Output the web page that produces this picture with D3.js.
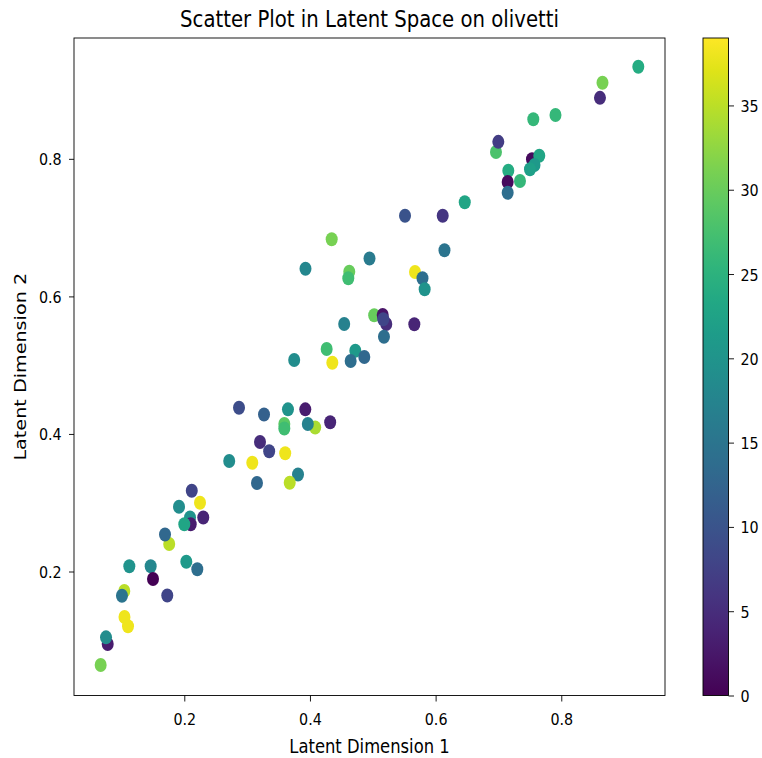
<!DOCTYPE html>
<html>
<head>
<meta charset="utf-8">
<script src="https://cdn.jsdelivr.net/npm/d3@7"></script>
<style>
  html, body { margin: 0; padding: 0; background: #fff; }
  svg { display: block; font-family: "DejaVu Sans", sans-serif; }
  .axis line { stroke: #000; stroke-width: 0.9px; }
  .axis text { fill: #000; font-family: "DejaVu Sans", sans-serif; }
</style>
</head>
<body>
<svg id="chart" width="762" height="758"></svg>
<script>
// Latent coordinates of the olivetti test faces and their subject ids
const latentX = [
  0.9226, 0.8656, 0.8616, 0.7908, 0.7555, 0.6961, 0.6998, 0.7534, 0.7650, 0.7574,
  0.7502, 0.7157, 0.7343, 0.7147, 0.7147, 0.6464, 0.5513, 0.6113, 0.4346, 0.6141,
  0.4948, 0.3929, 0.4626, 0.4610, 0.5672, 0.5791, 0.5826, 0.5022, 0.5158, 0.5215,
  0.5167, 0.5661, 0.4545, 0.5178, 0.4266, 0.4722, 0.4865, 0.4648, 0.4356, 0.3749,
  0.2871, 0.3269, 0.3650, 0.3926, 0.3592, 0.3592, 0.4083, 0.3966, 0.4322, 0.3205,
  0.3351, 0.3606, 0.3082, 0.2715, 0.3810, 0.3157, 0.3678, 0.2119, 0.2250, 0.1916,
  0.2091, 0.2302, 0.2102, 0.2000, 0.1760, 0.1693, 0.1125, 0.1465, 0.1502, 0.2032,
  0.2207, 0.1729, 0.1045, 0.1008, 0.1048, 0.1104, 0.0781, 0.0754, 0.0669
];
const latentY = [
  0.9339, 0.9107, 0.8887, 0.8637, 0.8576, 0.8099, 0.8247, 0.7994, 0.8044, 0.7910,
  0.7848, 0.7827, 0.7678, 0.7663, 0.7506, 0.7368, 0.7172, 0.7172, 0.6831, 0.6671,
  0.6551, 0.6401, 0.6359, 0.6263, 0.6354, 0.6263, 0.6103, 0.5726, 0.5729, 0.5598,
  0.5667, 0.5594, 0.5598, 0.5414, 0.5235, 0.5210, 0.5119, 0.5060, 0.5036, 0.5075,
  0.4382, 0.4283, 0.4358, 0.4358, 0.4145, 0.4079, 0.4094, 0.4145, 0.4171, 0.3883,
  0.3749, 0.3719, 0.3582, 0.3607, 0.3410, 0.3287, 0.3291, 0.3175, 0.3000, 0.2942,
  0.2785, 0.2785, 0.2688, 0.2688, 0.2400, 0.2538, 0.2076, 0.2076, 0.1891, 0.2142,
  0.2033, 0.1651, 0.1716, 0.1648, 0.1338, 0.1203, 0.0946, 0.1043, 0.0641
];
const subject = [
  24, 31, 5, 26, 26, 28, 7, 1, 23, 21,
  22, 24, 26, 1, 14, 23, 10, 6, 31, 15,
  16, 18, 30, 27, 38, 14, 20, 30, 2, 5,
  8, 4, 17, 14, 27, 21, 13, 14, 38, 19,
  9, 12, 20, 3, 29, 27, 34, 17, 4, 5,
  8, 38, 38, 19, 17, 13, 35, 8, 38, 19,
  20, 4, 3, 23, 35, 13, 20, 18, 0, 21,
  14, 8, 35, 15, 38, 38, 3, 19, 31
];
const xTicks = [0.2, 0.4, 0.6, 0.8];
const yTicks = [0.2, 0.4, 0.6, 0.8];
const cbarTicks = [0, 5, 10, 15, 20, 25, 30, 35];

const svg = d3.select("#chart");
const plot = { left: 74, right: 665, top: 38, bottom: 695.5 };
const cbar = { left: 703, right: 728.5 };
const stretch = 1.17;      // glyphs are drawn slightly taller than wide
const tickFont = 14.3, labelFont = 16.4, titleFont = 19.7;

const x = d3.scaleLinear().domain([0.02445, 0.9651]).range([plot.left, plot.right]);
const y = d3.scaleLinear().domain([0.01972, 0.9757]).range([plot.bottom, plot.top]);
const cDomain = [0, 39];
const color = v => d3.interpolateViridis((v - cDomain[0]) / (cDomain[1] - cDomain[0]));

// points
const pts = latentX.map((v, i) => ({ x: v, y: latentY[i], c: subject[i] }));
svg.append("g")
  .selectAll("ellipse")
  .data(pts)
  .join("ellipse")
  .attr("cx", d => x(d.x))
  .attr("cy", d => y(d.y))
  .attr("rx", 6)
  .attr("ry", 7)
  .attr("fill", d => color(d.c));

// frame
svg.append("rect")
  .attr("x", plot.left).attr("y", plot.top)
  .attr("width", plot.right - plot.left).attr("height", plot.bottom - plot.top)
  .attr("fill", "none").attr("stroke", "#000").attr("stroke-width", 0.9);

// bottom axis: labels set below the ticks with their baseline fixed
svg.append("g").attr("class", "axis")
  .attr("transform", `translate(0,${plot.bottom})`)
  .call(d3.axisBottom(x).tickValues(xTicks).tickFormat(d3.format(".1f")).tickSize(6))
  .call(g => g.select(".domain").remove())
  .call(g => g.selectAll(".tick text")
    .attr("y", null).attr("dy", null)
    .attr("font-size", tickFont)
    .attr("transform", `translate(0,29.5) scale(1,${stretch})`));

// left axis
svg.append("g").attr("class", "axis")
  .attr("transform", `translate(${plot.left},0)`)
  .call(d3.axisLeft(y).tickValues(yTicks).tickFormat(d3.format(".1f")).tickSize(5))
  .call(g => g.select(".domain").remove())
  .call(g => g.selectAll(".tick text")
    .attr("x", null).attr("dy", "0.36em")
    .attr("font-size", tickFont)
    .attr("transform", `translate(-12.3,0) scale(1,${stretch})`));

// titles
svg.append("text")
  .attr("transform", `translate(${(plot.left + plot.right) / 2},27) scale(1,${stretch})`)
  .attr("text-anchor", "middle").attr("font-size", titleFont).attr("fill", "#000")
  .text("Scatter Plot in Latent Space on olivetti");

svg.append("text")
  .attr("transform", `translate(${(plot.left + plot.right) / 2},753) scale(1,${stretch})`)
  .attr("text-anchor", "middle").attr("font-size", labelFont).attr("fill", "#000")
  .text("Latent Dimension 1");

svg.append("text")
  .attr("transform", `translate(25.5,${(plot.top + plot.bottom) / 2}) rotate(-90) scale(${stretch},1)`)
  .attr("text-anchor", "middle").attr("font-size", labelFont).attr("fill", "#000")
  .text("Latent Dimension 2");

// colorbar
const defs = svg.append("defs");
const grad = defs.append("linearGradient")
  .attr("id", "viridis").attr("x1", 0).attr("y1", 1).attr("x2", 0).attr("y2", 0);
d3.range(0, 1.0001, 0.05).forEach(t => {
  grad.append("stop").attr("offset", t).attr("stop-color", d3.interpolateViridis(t));
});
svg.append("rect")
  .attr("x", cbar.left).attr("y", plot.top)
  .attr("width", cbar.right - cbar.left).attr("height", plot.bottom - plot.top)
  .attr("fill", "url(#viridis)").attr("stroke", "#000").attr("stroke-width", 0.9);

const cy = d3.scaleLinear().domain(cDomain).range([plot.bottom, plot.top]);
svg.append("g").attr("class", "axis")
  .attr("transform", `translate(${cbar.right},0)`)
  .call(d3.axisRight(cy).tickValues(cbarTicks).tickSize(5.5))
  .call(g => g.select(".domain").remove())
  .call(g => g.selectAll(".tick text")
    .attr("x", null).attr("dy", "0.36em")
    .attr("font-size", tickFont)
    .attr("transform", `translate(12,0) scale(1,${stretch})`));
</script>
</body>
</html>
